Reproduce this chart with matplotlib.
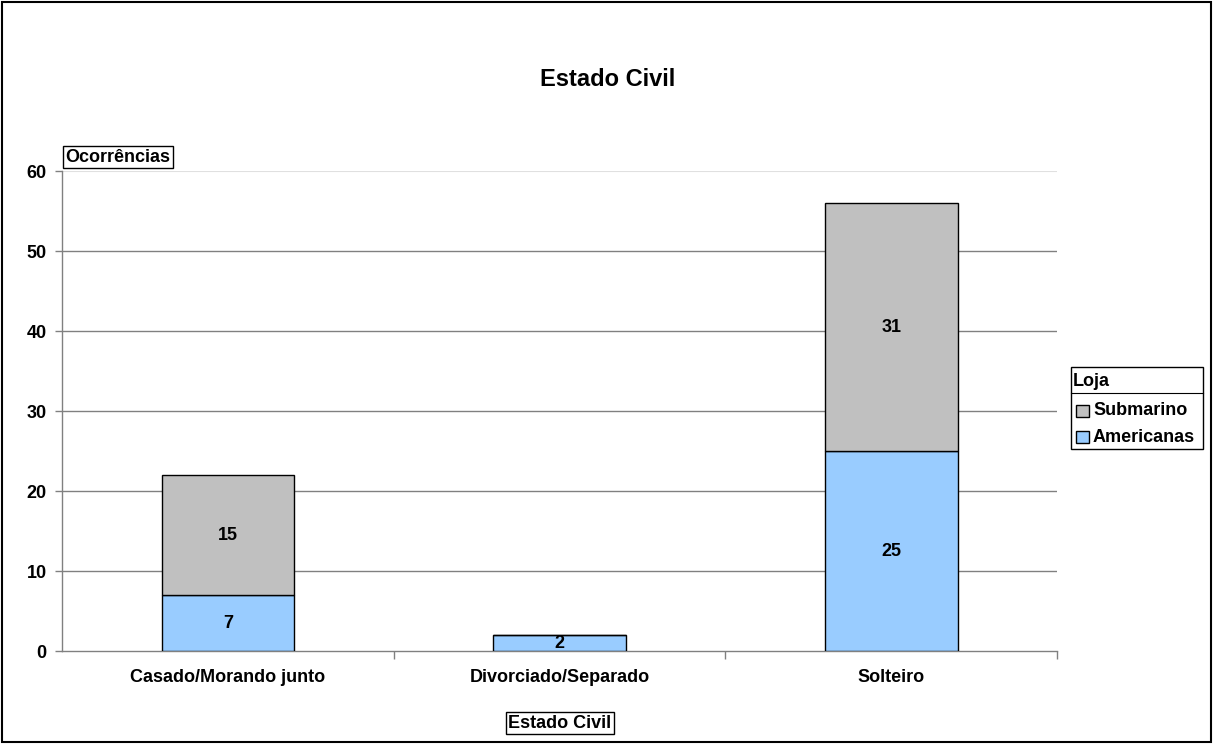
import matplotlib
matplotlib.use("Agg")
import matplotlib.pyplot as plt
from matplotlib.patches import Rectangle
from matplotlib.lines import Line2D

categories = ["Casado/Morando junto", "Divorciado/Separado", "Solteiro"]
americanas = [7, 2, 25]
submarino = [15, 0, 31]
series_names = ["Americanas", "Submarino"]
series_colors = ["#99CCFF", "#C0C0C0"]
y_ticks = [0, 10, 20, 30, 40, 50, 60]

W, H = 1214, 744
plt.rcParams["font.family"] = ["Liberation Sans", "DejaVu Sans"]
plt.rcParams["font.weight"] = "bold"

fig = plt.figure(figsize=(W / 100, H / 100), dpi=100)


def fx(x):
    return x / W


def fy(y):
    return 1 - y / H


ax = fig.add_axes([fx(62), fy(651), (1057 - 62) / W, (651 - 171) / H])

x = list(range(len(categories)))
bw = 0.4
ax.bar(x, americanas, bw, color=series_colors[0], edgecolor="black", linewidth=1, zorder=3)
ax.bar(x, submarino, bw, bottom=americanas, color=series_colors[1], edgecolor="black",
       linewidth=1, zorder=3)

# value labels centred in each non-empty segment
for i in x:
    if americanas[i] > 0:
        ax.text(i, americanas[i] / 2, str(americanas[i]), ha="center", va="center",
                fontsize=13, fontweight="bold", zorder=4)
    if submarino[i] > 0:
        ax.text(i, americanas[i] + submarino[i] / 2, str(submarino[i]), ha="center",
                va="center", fontsize=13, fontweight="bold", zorder=4)

ax.set_xlim(-0.5, len(categories) - 0.5)
ax.set_ylim(0, 60)
ax.set_yticks(y_ticks)
ax.set_yticklabels([str(t) for t in y_ticks], fontsize=13, fontweight="bold")
ax.tick_params(axis="y", direction="out", length=5, width=1, color="#808080", pad=6)

ax.set_xticks(x)
ax.set_xticklabels(categories, fontsize=13, fontweight="bold")
ax.tick_params(axis="x", which="major", length=0, pad=13)
ax.set_xticks([i + 0.5 for i in x], minor=True)
ax.tick_params(axis="x", which="minor", direction="out", length=6, width=1, color="#808080")

for t in y_ticks[1:-1]:
    ax.axhline(t, color="#808080", linewidth=1, zorder=1)
ax.axhline(60, color="#E0E0E0", linewidth=1.5, zorder=1)

for s in ["top", "right"]:
    ax.spines[s].set_visible(False)
for s in ["left", "bottom"]:
    ax.spines[s].set_color("#808080")
    ax.spines[s].set_linewidth(1)

# title and boxed axis labels
fig.text(fx(608), fy(80), "Estado Civil", ha="center", va="center", fontsize=17,
         fontweight="bold")
fig.text(fx(118), fy(157), "Ocorrências", ha="center", va="center", fontsize=13,
         fontweight="bold",
         bbox=dict(boxstyle="square,pad=0.15", facecolor="white", edgecolor="black", linewidth=1))
fig.text(fx(560), fy(723), "Estado Civil", ha="center", va="center", fontsize=13,
         fontweight="bold",
         bbox=dict(boxstyle="square,pad=0.15", facecolor="white", edgecolor="black", linewidth=1))

# legend box with title row
lx0, lx1, ly0, ly1 = 1071, 1203, 367, 449
fig.patches.append(Rectangle((fx(lx0), fy(ly1)), fx(lx1 - lx0), (ly1 - ly0) / H,
                             transform=fig.transFigure, facecolor="white",
                             edgecolor="black", linewidth=1))
fig.lines.append(Line2D([fx(lx0), fx(lx1)], [fy(393), fy(393)], transform=fig.transFigure,
                        color="black", linewidth=0.8))
fig.text(fx(lx0 + 2), fy(382), "Loja", ha="left", va="center", fontsize=13,
         fontweight="bold")
legend_rows = [(series_names[1], series_colors[1], 411), (series_names[0], series_colors[0], 437)]
for name, col, yy in legend_rows:
    fig.patches.append(Rectangle((fx(lx0 + 5), fy(yy + 6)), fx(13), 12 / H,
                                 transform=fig.transFigure, facecolor=col,
                                 edgecolor="black", linewidth=1))
    fig.text(fx(lx0 + 22), fy(yy), name, ha="left", va="center", fontsize=13,
             fontweight="bold")

# outer chart border
fig.patches.append(Rectangle((fx(2), fy(742)), fx(1209), 740 / H, transform=fig.transFigure,
                             facecolor="none", edgecolor="black", linewidth=1.5))

fig.savefig("out.png", dpi=100)
